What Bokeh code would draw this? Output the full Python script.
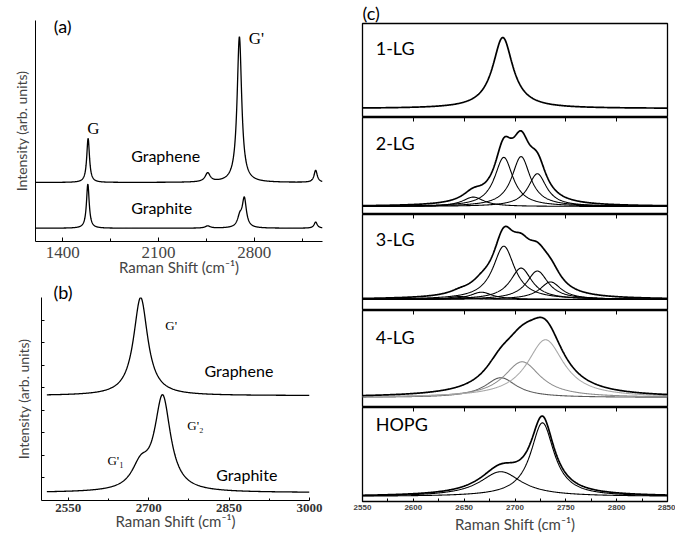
import numpy as np
from bokeh.plotting import figure
from bokeh.models import Range1d, FixedTicker, LinearAxis, Label
from bokeh.layouts import column, row
from bokeh.embed import file_html
from bokeh.resources import INLINE

# ---------------- data ----------------
# panel (a): wide Raman spectra, Lorentzian peaks (centre, height, FWHM)
A_TICKS = [1400, 2100, 2800]
A_MINOR = [1750, 2450, 3150]
A_GRAPHENE_BASE = 2.67
A_GRAPHENE_CENTERS = [1585, 2460, 2692, 3250]
A_GRAPHENE_HEIGHTS = [2.0, 0.4, 6.6, 0.55]
A_GRAPHENE_WIDTHS = [24, 45, 40, 28]
A_GRAPHITE_BASE = 0.6
A_GRAPHITE_CENTERS = [1583, 2460, 2695, 2728, 3250]
A_GRAPHITE_HEIGHTS = [2.0, 0.1, 0.45, 1.3, 0.28]
A_GRAPHITE_WIDTHS = [24, 45, 40, 36, 28]

# panel (b): G' band
B_TICKS = [2550, 2700, 2850, 3000]
B_MINOR = [2625, 2775, 2925]
B_YTICKS = [1, 2, 3, 4, 5, 6, 7, 8]
B_GRAPHENE_BASE = 4.65
B_GRAPHENE_CENTERS = [2685]
B_GRAPHENE_HEIGHTS = [4.35]
B_GRAPHENE_WIDTHS = [32]
B_GRAPHITE_BASE = 0.35
B_GRAPHITE_CENTERS = [2685, 2726]
B_GRAPHITE_HEIGHTS = [1.0, 4.15]
B_GRAPHITE_WIDTHS = [40, 36]

# panel (c): fitted components per sample (centre, height, FWHM)
C_TICKS = [2550, 2600, 2650, 2700, 2750, 2800, 2850]
C_MINOR = [2575, 2625, 2675, 2725, 2775, 2825]
C_TOP_TICKS = [2600, 2650, 2700, 2750, 2800]
C_LABELS = ["1-LG", "2-LG", "3-LG", "4-LG", "HOPG"]
C_CENTERS = [
    [2688],
    [2659, 2689, 2706, 2722],
    [2646, 2667, 2689, 2706, 2722, 2735],
    [2686, 2707, 2730],
    [2686, 2727],
]
C_HEIGHTS = [
    [1.0],
    [0.12, 0.63, 0.64, 0.42],
    [0.04, 0.10, 0.73, 0.43, 0.39, 0.24],
    [0.26, 0.47, 0.76],
    [0.31, 0.92],
]
C_WIDTHS = [
    [24],
    [26, 22, 22, 22],
    [26, 26, 26, 26, 26, 26],
    [38, 44, 44],
    [50, 28],
]
C_COMP_COLORS = [
    ["black"],
    ["black"] * 4,
    ["black"] * 6,
    ["#5a5a5a", "#8c8c8c", "#a8a8a8"],
    ["black", "black"],
]


def lor(x, c, h, w):
    return h / (1.0 + ((x - c) / (w / 2.0)) ** 2)


def spectrum(x, base, centers, heights, widths):
    y = np.full_like(x, base, dtype=float)
    for c, h, w in zip(centers, heights, widths):
        y = y + lor(x, c, h, w)
    return y


SANS = "Lato"
SERIF = "Liberation Serif"
TITLE = "Raman Shift (cm\u207b\u00b9)"


def txt(p, x, y, s, size, font=SANS, align="left"):
    p.add_layout(Label(x=x, y=y, text=s, text_font=font, text_font_size=size,
                       text_color="black", text_align=align, text_baseline="middle"))


def style_fig(p):
    p.xgrid.visible = False
    p.ygrid.visible = False
    p.background_fill_color = "white"
    p.border_fill_color = "white"


def panel_title(p, s, offset, standoff):
    p.title.text = s
    p.title.text_font = SANS
    p.title.text_font_size = "18px"
    p.title.text_font_style = "normal"
    p.title.text_color = "black"
    p.title.align = "left"
    p.title.offset = offset
    p.title.standoff = standoff


# ---------------- panel (a) ----------------
pa = figure(width=350, height=282, output_backend="svg", toolbar_location=None,
            x_range=Range1d(1200, 3300), y_range=Range1d(0, 10),
            min_border_left=35, min_border_right=28, min_border_top=20, min_border_bottom=41)
style_fig(pa)
pa.outline_line_color = None
xa = np.arange(1200, 3300.1, 2.0)
pa.line(xa, spectrum(xa, A_GRAPHENE_BASE, A_GRAPHENE_CENTERS, A_GRAPHENE_HEIGHTS, A_GRAPHENE_WIDTHS),
        line_color="black", line_width=1.3)
pa.line(xa, spectrum(xa, A_GRAPHITE_BASE, A_GRAPHITE_CENTERS, A_GRAPHITE_HEIGHTS, A_GRAPHITE_WIDTHS),
        line_color="black", line_width=1.3)
pa.xaxis.ticker = FixedTicker(ticks=A_TICKS, minor_ticks=A_MINOR)
pa.xaxis.major_tick_in = 4
pa.xaxis.major_tick_out = 0
pa.xaxis.minor_tick_in = 3
pa.xaxis.minor_tick_out = 0
pa.xaxis.major_label_text_font = SERIF
pa.xaxis.major_label_text_font_size = "17px"
pa.xaxis.major_label_standoff = 5
pa.xaxis.axis_label = TITLE
pa.xaxis.axis_label_text_font = SANS
pa.xaxis.axis_label_text_font_size = "15px"
pa.xaxis.axis_label_text_font_style = "normal"
pa.xaxis.axis_label_standoff = -3
pa.yaxis.ticker = FixedTicker(ticks=[], minor_ticks=[])
pa.yaxis.axis_label = "Intensity (arb. units)"
pa.yaxis.axis_label_text_font = SANS
pa.yaxis.axis_label_text_font_size = "14px"
pa.yaxis.axis_label_text_font_style = "normal"
pa.yaxis.axis_label_standoff = 6
for ax in (pa.xaxis, pa.yaxis):
    ax.axis_line_color = "black"
    ax.major_tick_line_color = "black"
    ax.minor_tick_line_color = "black"
txt(pa, 1333, 9.75, "(a)", "18px")
txt(pa, 2760, 9.2, "G'", "17px", SERIF)
txt(pa, 1578, 5.1, "G", "17px", SERIF)
txt(pa, 1900, 3.9, "Graphene", "16px")
txt(pa, 1900, 1.55, "Graphite", "16px")

# ---------------- panel (b) ----------------
pb = figure(width=350, height=253, output_backend="svg", toolbar_location=None,
            x_range=Range1d(2500, 3000), y_range=Range1d(0, 9),
            min_border_left=41, min_border_right=41, min_border_top=15, min_border_bottom=35)
style_fig(pb)
panel_title(pb, "(b)", 12, -10)
pb.outline_line_color = None
xb = np.arange(2510, 3000.1, 1.0)
pb.line(xb, spectrum(xb, B_GRAPHENE_BASE, B_GRAPHENE_CENTERS, B_GRAPHENE_HEIGHTS, B_GRAPHENE_WIDTHS),
        line_color="black", line_width=1.3)
pb.line(xb, spectrum(xb, B_GRAPHITE_BASE, B_GRAPHITE_CENTERS, B_GRAPHITE_HEIGHTS, B_GRAPHITE_WIDTHS),
        line_color="black", line_width=1.3)
pb.xaxis.ticker = FixedTicker(ticks=B_TICKS, minor_ticks=B_MINOR)
pb.xaxis.major_tick_in = 3
pb.xaxis.major_tick_out = 0
pb.xaxis.minor_tick_in = 2
pb.xaxis.minor_tick_out = 0
pb.xaxis.major_label_text_font = SERIF
pb.xaxis.major_label_text_font_size = "13px"
pb.xaxis.major_label_text_font_style = "bold"
pb.xaxis.major_label_text_color = "#333333"
pb.xaxis.major_label_standoff = 3
pb.xaxis.axis_label = TITLE
pb.xaxis.axis_label_text_font = SANS
pb.xaxis.axis_label_text_font_size = "15px"
pb.xaxis.axis_label_text_font_style = "normal"
pb.xaxis.axis_label_standoff = -3
pb.yaxis.ticker = FixedTicker(ticks=[], minor_ticks=B_YTICKS)
pb.yaxis.minor_tick_in = 3
pb.yaxis.minor_tick_out = 0
pb.yaxis.axis_label = "Intensity (arb. units)"
pb.yaxis.axis_label_text_font = SANS
pb.yaxis.axis_label_text_font_size = "14px"
pb.yaxis.axis_label_text_font_style = "normal"
pb.yaxis.axis_label_standoff = 10
for ax in (pb.xaxis, pb.yaxis):
    ax.axis_line_color = "black"
    ax.major_tick_line_color = "black"
    ax.minor_tick_line_color = "black"
txt(pb, 2731, 7.76, "G'", "13px", SERIF)
txt(pb, 2804, 5.76, "Graphene", "16px")
txt(pb, 2772, 3.32, "G'\u2082", "13px", SERIF)
txt(pb, 2623, 1.77, "G'\u2081", "13px", SERIF)
txt(pb, 2826, 1.15, "Graphite", "16px")

# ---------------- panel (c) ----------------
heights = [117, 97, 96, 97, 128]
tops = [23, 0, 0, 0, 0]
bottoms = [0, 0, 0, 0, 33]
yranges = [(-0.127, 1.197), (-0.103, 1.141), (-0.151, 1.164), (-0.132, 1.145), (-0.062, 1.111)]
label_y = [0.845, 0.81, 0.835, 0.80, 0.91]
xc = np.arange(2550, 2850.1, 0.5)
cfigs = []
for i in range(5):
    p = figure(width=325, height=heights[i], output_backend="svg", toolbar_location=None,
               x_range=Range1d(2550, 2850), y_range=Range1d(*yranges[i]),
               x_axis_location=None, y_axis_location=None,
               min_border_left=12, min_border_right=8,
               min_border_top=tops[i], min_border_bottom=bottoms[i])
    style_fig(p)
    p.outline_line_color = "black"
    p.outline_line_width = 1.3
    cs, hs, ws, cols = C_CENTERS[i], C_HEIGHTS[i], C_WIDTHS[i], C_COMP_COLORS[i]
    if len(cs) > 1:
        for c, h, w, col in zip(cs, hs, ws, cols):
            p.line(xc, lor(xc, c, h, w), line_color=col, line_width=1.1)
    p.line(xc, spectrum(xc, 0.0, cs, hs, ws), line_color="black", line_width=1.7)
    if i > 0:
        top_ax = LinearAxis(ticker=FixedTicker(ticks=[], minor_ticks=C_TOP_TICKS))
        top_ax.minor_tick_in = 4
        top_ax.minor_tick_out = 0
        top_ax.minor_tick_line_color = "black"
        top_ax.axis_line_color = None
        p.add_layout(top_ax, "above")
    if i == 4:
        bax = LinearAxis(ticker=FixedTicker(ticks=C_TICKS, minor_ticks=C_MINOR))
        bax.major_tick_in = 3
        bax.major_tick_out = 0
        bax.minor_tick_in = 3
        bax.minor_tick_out = 0
        bax.axis_line_color = None
        bax.major_label_text_font = "Liberation Sans"
        bax.major_label_text_font_size = "8px"
        bax.major_label_text_font_style = "bold"
        bax.major_label_standoff = 3
        bax.axis_label = TITLE
        bax.axis_label_text_font = SANS
        bax.axis_label_text_font_size = "15px"
        bax.axis_label_text_font_style = "normal"
        bax.axis_label_standoff = 2
        p.add_layout(bax, "below")
    if i == 0:
        panel_title(p, "(c)", 0, -1)
    txt(p, 2563, label_y[i], C_LABELS[i], "18px")
    cfigs.append(p)

layout = row(column(row(pa), row(pb)), column(*cfigs))
open("out.html", "w").write(file_html(layout, INLINE))
